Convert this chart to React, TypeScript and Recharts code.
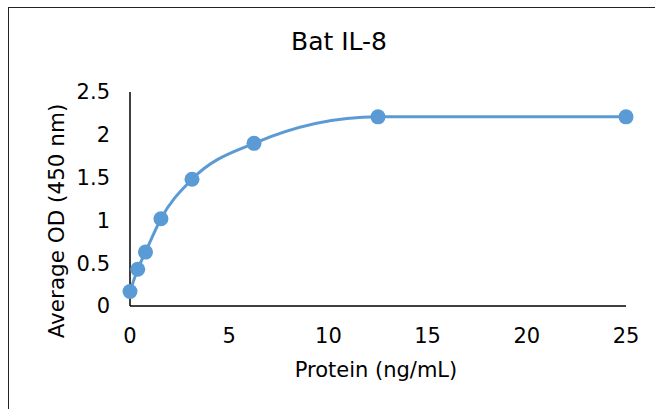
import React from 'react';
import { LineChart, Line, XAxis, YAxis, Label } from 'recharts';

const proteinNgMl = [0, 0.39, 0.78, 1.56, 3.125, 6.25, 12.5, 25];
const averageOd = [0.17, 0.43, 0.63, 1.02, 1.48, 1.9, 2.21, 2.21];
const xTicks = [0, 5, 10, 15, 20, 25];
const yTicks = [0, 0.5, 1, 1.5, 2, 2.5];
const chartTitle = 'Bat IL-8';
const xTitle = 'Protein (ng/mL)';
const yTitle = 'Average OD (450 nm)';

const data = proteinNgMl.map((x, i) => ({ x, y: averageOd[i] }));

const FONT = "'DejaVu Sans', Verdana, sans-serif";
const BLUE = '#5B9BD5';

export default function App() {
  return (
    <div
      style={{
        position: 'absolute',
        left: 0,
        top: 0,
        width: 655,
        height: 409,
        overflow: 'hidden',
        fontFamily: FONT,
        background: '#fff',
      }}
    >
      <div
        style={{
          position: 'absolute',
          left: 8,
          top: 7,
          width: 700,
          height: 450,
          borderLeft: '1.5px solid #222',
          borderTop: '1.5px solid #222',
          boxSizing: 'border-box',
        }}
      />
      <div
        style={{
          position: 'absolute',
          left: 139,
          top: 29,
          width: 400,
          textAlign: 'center',
          fontSize: 25,
          lineHeight: '25px',
          color: '#000',
          fontFamily: FONT,
        }}
      >
        {chartTitle}
      </div>
      <div style={{ position: 'absolute', left: 8, top: 8 }}>
        <LineChart
          width={646}
          height={400}
          data={data}
          margin={{ top: 84, right: 28, left: 0, bottom: 0 }}
        >
          <XAxis
            dataKey="x"
            type="number"
            domain={[0, 25]}
            ticks={xTicks}
            interval={0}
            height={102}
            axisLine={{ stroke: '#000', strokeWidth: 1.5 }}
            tickLine={false}
            tickSize={0}
            tickMargin={22}
            tick={{ fill: '#000', fontSize: 21, fontFamily: FONT }}
          >
            <Label
              content={() => (
                <text
                  x={368}
                  y={369}
                  textAnchor="middle"
                  fill="#000"
                  fontSize={21}
                  fontFamily={FONT}
                >
                  {xTitle}
                </text>
              )}
            />
          </XAxis>
          <YAxis
            type="number"
            domain={[0, 2.5]}
            ticks={yTicks}
            interval={0}
            width={122}
            axisLine={{ stroke: '#000', strokeWidth: 1.5 }}
            tickLine={false}
            tickSize={0}
            tickMargin={20}
            tick={{ fill: '#000', fontSize: 21, fontFamily: FONT }}
          >
            <Label
              content={() => (
                <text
                  x={0}
                  y={0}
                  transform="translate(56, 213) rotate(-90)"
                  textAnchor="middle"
                  fill="#000"
                  fontSize={21.5}
                  fontFamily={FONT}
                >
                  {yTitle}
                </text>
              )}
            />
          </YAxis>
          <Line
            type="monotone"
            dataKey="y"
            stroke={BLUE}
            strokeWidth={3}
            dot={{ r: 7.5, fill: BLUE, stroke: BLUE, strokeWidth: 0 }}
            activeDot={false}
            isAnimationActive={false}
          />
        </LineChart>
      </div>
    </div>
  );
}
